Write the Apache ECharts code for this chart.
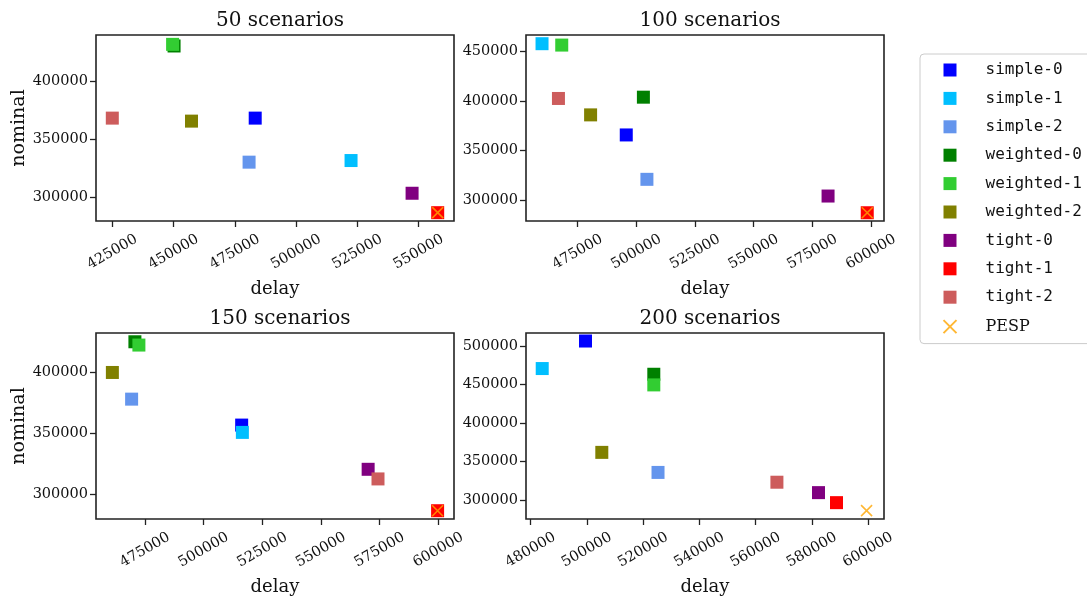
<!DOCTYPE html>
<html>
<head>
<meta charset="utf-8">
<script src="https://cdn.jsdelivr.net/npm/echarts@6/dist/echarts.min.js"></script>
<style>html,body{margin:0;padding:0;background:#fff}#c{width:1087px;height:607px}</style>
</head>
<body>
<div id="c"></div>
<script>
const methods = ['simple-0','simple-1','simple-2','weighted-0','weighted-1','weighted-2','tight-0','tight-1','tight-2'];
const colors = ['#0000ff','#00bfff','#6495ed','#008000','#32cd32','#808000','#800080','#ff0000','#cd5c5c'];
const pespColor = '#ffa500';
const titles = ['50 scenarios','100 scenarios','150 scenarios','200 scenarios'];

const delay50   = [483300, 522400, 480800, 450200, 449600, 457300, 547300, 557750, 425000];
const nominal50 = [368500, 331800, 330400, 430900, 432300, 365900, 303500, 286700, 368500];
const delay100   = [495700, 459800, 504500, 503000, 468200, 480500, 581700, 598400, 466800];
const nominal100 = [365800, 458100, 320900, 404000, 456700, 386100, 304000, 287100, 402700];
const delay150   = [516200, 516500, 469300, 470700, 472400, 461100, 570100, 599700, 574300];
const nominal150 = [356800, 350800, 378100, 425200, 422500, 400000, 320500, 286500, 312600];
const delay200   = [499500, 484100, 525300, 523800, 523800, 505300, 582400, 588800, 567600];
const nominal200 = [506500, 470800, 336100, 463400, 449600, 362100, 309900, 296900, 323400];

const pespDelay   = [557750, 598400, 599700, 599500];
const pespNominal = [286700, 287100, 286500, 286500];

const xTicks = [
  [425000, 450000, 475000, 500000, 525000, 550000],
  [475000, 500000, 525000, 550000, 575000, 600000],
  [475000, 500000, 525000, 550000, 575000, 600000],
  [480000, 500000, 520000, 540000, 560000, 580000, 600000]
];
const yTicks = [
  [300000, 350000, 400000],
  [300000, 350000, 400000, 450000],
  [300000, 350000, 400000],
  [300000, 350000, 400000, 450000, 500000]
];
const xRange = [[418350, 564400],[452970, 605540],[454120, 606690],[478330, 605700]];
const yRange = [[279500, 440400],[278750, 466900],[279700, 432400],[275700, 516900]];

const delays = [delay50, delay100, delay150, delay200];
const nominals = [nominal50, nominal100, nominal150, nominal200];

const serif = 'DejaVu Serif';
const grids = [
  {left: 96, top: 35, width: 358, height: 186},
  {left: 526, top: 35, width: 358, height: 186},
  {left: 96, top: 333, width: 358, height: 186},
  {left: 526, top: 333, width: 358, height: 186}
];
const titleY = [6, 6, 304, 304];

const option = {
  backgroundColor: '#fff',
  animation: false,
  title: titles.map((t, i) => ({
    text: t,
    left: grids[i].left + grids[i].width / 2,
    textAlign: 'center',
    top: titleY[i],
    textStyle: {fontFamily: serif, fontSize: 20, fontWeight: 'normal', color: '#111'}
  })),
  grid: grids.map(g => Object.assign({show: true, borderColor: '#222', borderWidth: 1.6, backgroundColor: 'transparent'}, g)),
  xAxis: grids.map((g, i) => ({
    type: 'value', gridIndex: i,
    min: xRange[i][0], max: xRange[i][1],
    name: 'delay', nameLocation: 'middle', nameGap: 59,
    nameTextStyle: {fontFamily: serif, fontSize: 18, color: '#111'},
    axisLine: {show: false},
    splitLine: {show: false},
    axisTick: {show: true, length: 6, lineStyle: {color: '#222', width: 1.3}, customValues: xTicks[i]},
    axisLabel: {customValues: xTicks[i], rotate: 30, align: 'center', verticalAlign: 'middle',
      formatter: v => String(v), fontFamily: serif, fontSize: 14.5, color: '#111', margin: 31}
  })),
  yAxis: grids.map((g, i) => ({
    type: 'value', gridIndex: i,
    min: yRange[i][0], max: yRange[i][1],
    name: (i % 2 === 0) ? 'nominal' : '', nameLocation: 'middle', nameGap: 67,
    nameTextStyle: {fontFamily: serif, fontSize: 19, color: '#111'},
    axisLine: {show: false},
    splitLine: {show: false},
    axisTick: {show: true, length: 6, lineStyle: {color: '#222', width: 1.3}, customValues: yTicks[i]},
    axisLabel: {customValues: yTicks[i], formatter: v => String(v), fontFamily: serif, fontSize: 14.5, color: '#111', margin: 8}
  })),
  legend: {
    orient: 'vertical', left: 920, top: 54,
    padding: [8, 20, 8, 21],
    itemGap: 12.4, itemWidth: 13, itemHeight: 13,
    borderColor: '#ccc', borderWidth: 1, borderRadius: 4,
    textStyle: {fontFamily: 'DejaVu Sans Mono', fontSize: 16, color: '#111', padding: [0, 0, 0, 24]},
    data: methods.map(m => ({name: m, icon: 'rect'})).concat([{name: 'PESP', textStyle: {fontFamily: serif, fontSize: 16}}])
  },
  series: []
};

for (let g = 0; g < 4; g++) {
  for (let k = 0; k < methods.length; k++) {
    option.series.push({
      type: 'scatter', name: methods[k], xAxisIndex: g, yAxisIndex: g,
      symbol: 'rect', symbolSize: 13,
      itemStyle: {color: colors[k], opacity: 1},
      data: [[delays[g][k], nominals[g][k]]]
    });
  }
  option.series.push({
    type: 'scatter', name: 'PESP', xAxisIndex: g, yAxisIndex: g,
    symbol: 'path://M0,0L10,10M10,0L0,10', symbolSize: 11,
    itemStyle: {color: 'none', borderColor: pespColor, borderWidth: 1.6},
    data: [[pespDelay[g], pespNominal[g]]],
    z: 5
  });
}

const chart = echarts.init(document.getElementById('c'), null, {renderer: 'canvas'});
chart.setOption(option);
</script>
</body>
</html>
